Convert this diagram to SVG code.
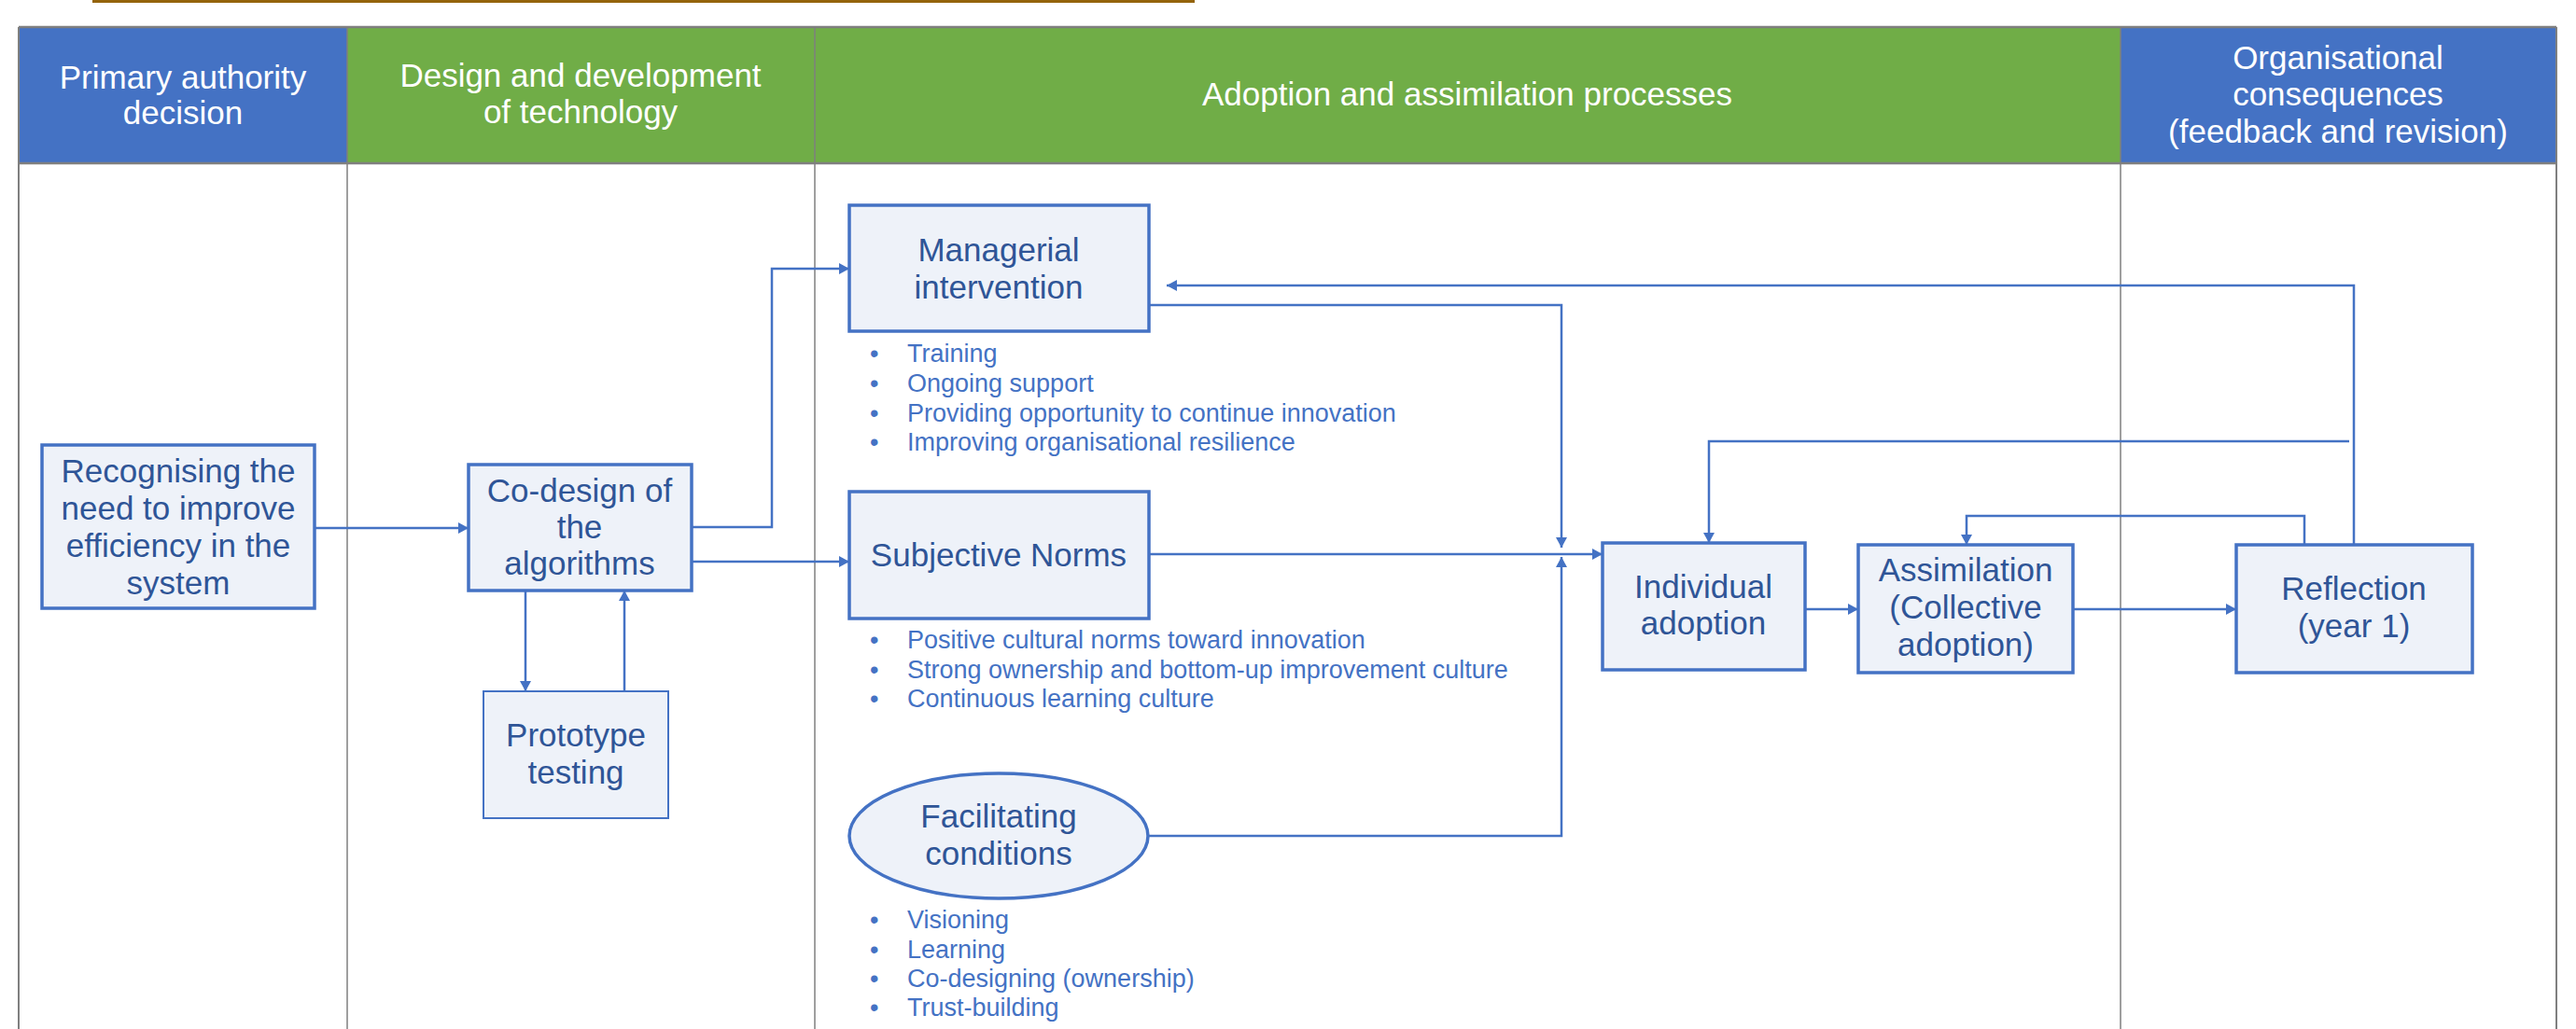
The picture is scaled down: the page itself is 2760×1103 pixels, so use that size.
<svg xmlns="http://www.w3.org/2000/svg" width="2760" height="1103" viewBox="0 0 2760 1103">
  <defs>
    <marker id="arrow" viewBox="0 0 12 12" markerWidth="12" markerHeight="12" refX="11" refY="6" orient="auto" markerUnits="userSpaceOnUse">
      <path d="M0,0 L11,6 L0,12 z" fill="#4472C4"/>
    </marker>
    <style>
      .hdr { font-family: "Liberation Sans", Arial, sans-serif; font-size: 35px; fill: #ffffff; text-anchor: middle; }
      .grid { stroke: #7F7F7F; fill: none; }
      .box { fill: #EEF2F9; stroke: #4472C4; stroke-width: 3.5; }
      .box-thin { fill: #EEF2F9; stroke: #4472C4; stroke-width: 2; }
      .label { font-family: "Liberation Sans", Arial, sans-serif; font-size: 35px; fill: #2F5597; text-anchor: middle; }
      .bullet { font-family: "Liberation Sans", Arial, sans-serif; font-size: 27px; fill: #4472C4; }
      .conn { fill: none; stroke: #4472C4; stroke-width: 2.5; }
      .conn-arrow { fill: none; stroke: #4472C4; stroke-width: 2.5; marker-end: url(#arrow); }
    </style>
  </defs>

  <rect width="2760" height="1103" fill="#ffffff"/>

  <!-- title rule -->
  <rect x="99" y="0" width="1181" height="3" fill="#94640C"/>

  <!-- swimlane headers -->
  <g id="lane-headers">
    <rect x="20" y="29" width="352" height="146" fill="#4472C4"/>
    <rect x="372" y="29" width="501" height="146" fill="#70AD47"/>
    <rect x="873" y="29" width="1399" height="146" fill="#70AD47"/>
    <rect x="2272" y="29" width="467" height="146" fill="#4472C4"/>
    <text class="hdr" x="196" y="95">Primary authority</text>
    <text class="hdr" x="196" y="133">decision</text>
    <text class="hdr" x="622" y="93">Design and development</text>
    <text class="hdr" x="622" y="132">of technology</text>
    <text class="hdr" x="1572" y="113">Adoption and assimilation processes</text>
    <text class="hdr" x="2505" y="74">Organisational</text>
    <text class="hdr" x="2505" y="113">consequences</text>
    <text class="hdr" x="2505" y="153">(feedback and revision)</text>
  </g>

  <!-- swimlane grid -->
  <g id="lane-grid">
    <line class="grid" x1="20" y1="29" x2="2739" y2="29" stroke-width="2.5"/>
    <line class="grid" x1="20" y1="175" x2="2739" y2="175" stroke-width="2.5"/>
    <line class="grid" x1="20" y1="29" x2="20" y2="1103" stroke-width="2"/>
    <line class="grid" x1="372" y1="29" x2="372" y2="1103" stroke-width="1.5"/>
    <line class="grid" x1="873" y1="29" x2="873" y2="1103" stroke-width="1.5"/>
    <line class="grid" x1="2272" y1="29" x2="2272" y2="1103" stroke-width="1.5"/>
    <line class="grid" x1="2739" y1="29" x2="2739" y2="1103" stroke-width="2"/>
  </g>

  <!-- connectors -->
  <g id="connectors">
    <path class="conn-arrow" d="M337,566 H502"/>
    <path class="conn-arrow" d="M741,565 H827 V288 H910"/>
    <path class="conn-arrow" d="M741,602 H910"/>
    <path class="conn-arrow" d="M563,633 V741"/>
    <path class="conn-arrow" d="M669,741 V633"/>
    <path class="conn-arrow" d="M1231,327 H1673 V587"/>
    <path class="conn-arrow" d="M1231,594 H1717"/>
    <path class="conn-arrow" d="M1231,896 H1673 V597"/>
    <path class="conn-arrow" d="M1934,653 H1991"/>
    <path class="conn-arrow" d="M2221,653 H2396"/>
    <path class="conn-arrow" d="M2469,584 V553 H2107 V584"/>
    <path class="conn-arrow" d="M2517,473 H1831 V582"/>
    <path class="conn-arrow" d="M2522,584 V306 H1250"/>
  </g>

  <!-- nodes -->
  <g id="node-recognising">
    <rect class="box" x="45" y="477" width="292" height="175"/>
    <text class="label" x="191" y="517">Recognising the</text>
    <text class="label" x="191" y="557">need to improve</text>
    <text class="label" x="191" y="597">efficiency in the</text>
    <text class="label" x="191" y="637">system</text>
  </g>

  <g id="node-codesign">
    <rect class="box" x="502" y="498" width="239" height="135"/>
    <text class="label" x="621" y="538">Co-design of</text>
    <text class="label" x="621" y="577">the</text>
    <text class="label" x="621" y="616">algorithms</text>
  </g>

  <g id="node-prototype">
    <rect class="box-thin" x="518" y="741" width="198" height="136"/>
    <text class="label" x="617" y="800">Prototype</text>
    <text class="label" x="617" y="840">testing</text>
  </g>

  <g id="node-managerial">
    <rect class="box" x="910" y="220" width="321" height="135"/>
    <text class="label" x="1070" y="280">Managerial</text>
    <text class="label" x="1070" y="320">intervention</text>
    <g class="bullet">
      <text x="932" y="388">•</text><text x="972" y="388">Training</text>
      <text x="932" y="420">•</text><text x="972" y="420">Ongoing support</text>
      <text x="932" y="452">•</text><text x="972" y="452">Providing opportunity to continue innovation</text>
      <text x="932" y="483">•</text><text x="972" y="483">Improving organisational resilience</text>
    </g>
  </g>

  <g id="node-subjective">
    <rect class="box" x="910" y="527" width="321" height="136"/>
    <text class="label" x="1070" y="607">Subjective Norms</text>
    <g class="bullet">
      <text x="932" y="695">•</text><text x="972" y="695">Positive cultural norms toward innovation</text>
      <text x="932" y="727">•</text><text x="972" y="727">Strong ownership and bottom-up improvement culture</text>
      <text x="932" y="758">•</text><text x="972" y="758">Continuous learning culture</text>
    </g>
  </g>

  <g id="node-facilitating">
    <ellipse class="box" cx="1070" cy="896" rx="160" ry="67" stroke-width="3"/>
    <text class="label" x="1070" y="887">Facilitating</text>
    <text class="label" x="1070" y="927">conditions</text>
    <g class="bullet">
      <text x="932" y="995">•</text><text x="972" y="995">Visioning</text>
      <text x="932" y="1027">•</text><text x="972" y="1027">Learning</text>
      <text x="932" y="1058">•</text><text x="972" y="1058">Co-designing (ownership)</text>
      <text x="932" y="1089">•</text><text x="972" y="1089">Trust-building</text>
    </g>
  </g>

  <g id="node-individual">
    <rect class="box" x="1717" y="582" width="217" height="136"/>
    <text class="label" x="1825" y="641">Individual</text>
    <text class="label" x="1825" y="680">adoption</text>
  </g>

  <g id="node-assimilation">
    <rect class="box" x="1991" y="584" width="230" height="137"/>
    <text class="label" x="2106" y="623">Assimilation</text>
    <text class="label" x="2106" y="663">(Collective</text>
    <text class="label" x="2106" y="703">adoption)</text>
  </g>

  <g id="node-reflection">
    <rect class="box" x="2396" y="584" width="253" height="137"/>
    <text class="label" x="2522" y="643">Reflection</text>
    <text class="label" x="2522" y="683">(year 1)</text>
  </g>
</svg>
